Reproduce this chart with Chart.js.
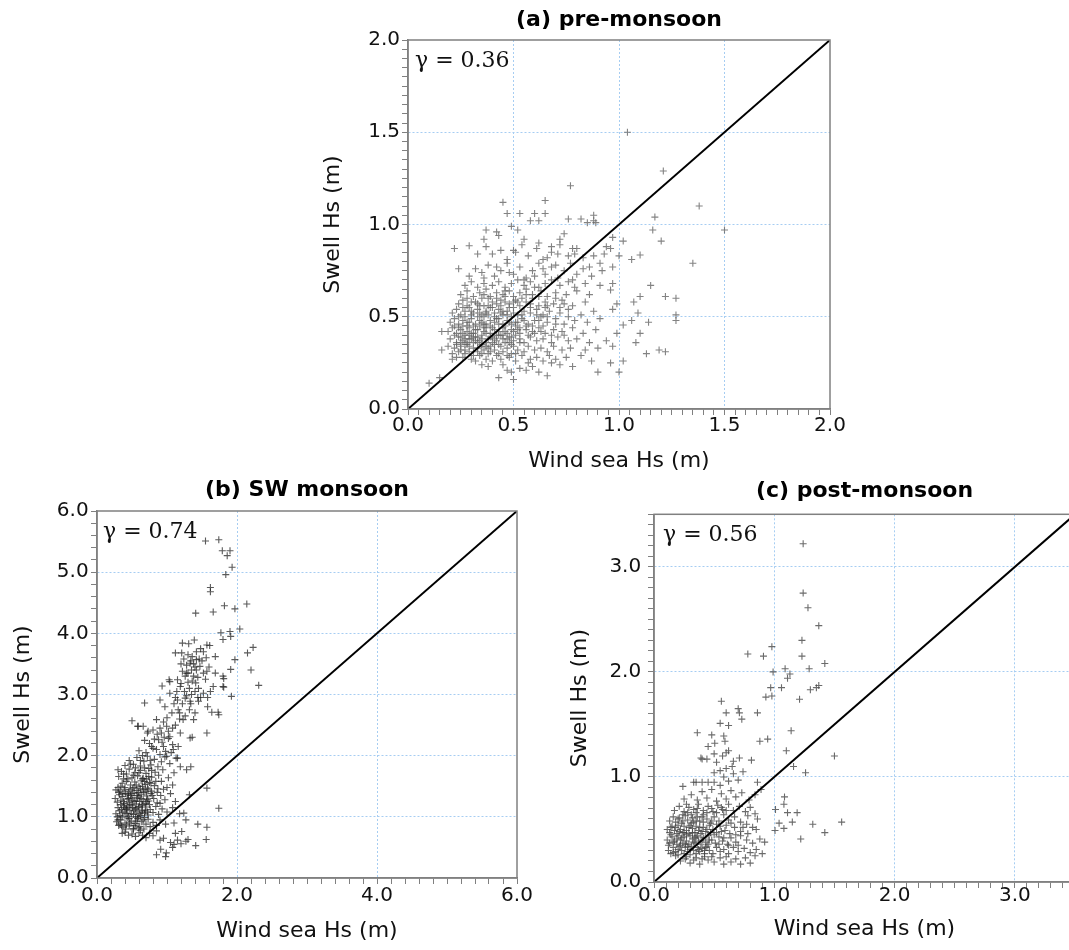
<!DOCTYPE html>
<html>
<head>
<meta charset="utf-8">
<script src="https://cdn.jsdelivr.net/npm/chart.js@4/dist/chart.umd.min.js"></script>
<style>
    html, body { margin: 0; padding: 0; overflow: hidden; background: #fff; width: 1069px; height: 950px; }
    .panel { position: absolute; }
</style>
</head>
<body>
<div class="panel" style="left:300px;top:0px;"><canvas id="chartA" width="560" height="480"></canvas></div>
<div class="panel" style="left:0px;top:470px;"><canvas id="chartB" width="550" height="480"></canvas></div>
<div class="panel" style="left:540px;top:470px;"><canvas id="chartC" width="560" height="480"></canvas></div>
<script>
const panelTitles = ['(a) pre-monsoon', '(b) SW monsoon', '(c) post-monsoon'];
const gammaLabels = ['\u03b3 = 0.36', '\u03b3 = 0.74', '\u03b3 = 0.56'];
const xLabel = 'Wind sea Hs (m)';
const yLabel = 'Swell Hs (m)';

// major (labelled) ticks of each axis
const preTicks = [0, 0.5, 1.0, 1.5, 2.0];
const swXTicks = [0, 2, 4, 6];
const swYTicks = [0, 1, 2, 3, 4, 5, 6];
const postTicks = [0, 1, 2, 3];

// [wind sea Hs, swell Hs]
const preMonsoon = [
    [1.04,1.50],[1.21,1.29],[0.77,1.21],[1.38,1.10],[1.17,1.04],[1.16,0.97],[1.50,0.97],[1.35,0.79],[1.20,0.91],
    [0.45,1.12],[0.65,1.13],[0.47,1.06],[0.53,1.06],[0.60,1.06],[0.65,1.06],[0.76,1.03],[0.82,1.03],[0.88,1.05],
    [0.88,1.02],[0.89,1.01],[0.22,0.87],[0.29,0.885],[0.24,0.76],[0.16,0.42],[0.16,0.32],[0.10,0.14],[0.15,0.17],
    [0.21,0.27],[0.43,0.17],[0.50,0.16],[0.66,0.18],[0.90,0.20],[1.00,0.20],[0.87,0.26],[0.96,0.25],[1.02,0.26],
    [1.13,0.30],[1.19,0.32],[1.22,0.31],[1.08,0.36],[1.10,0.41],[1.27,0.60],[1.27,0.51],[1.27,0.48],[1.22,0.61],
    [1.15,0.67],[1.10,0.835],[1.06,0.81],[1.10,0.61],[1.07,0.58],[1.14,0.47],[1.06,0.48],[1.09,0.52],[1.02,0.91],
    [0.97,0.93],[0.96,0.87],[1.00,0.83],[0.97,0.77],[0.97,0.68],[0.96,0.645],[0.99,0.57],[0.97,0.54],[0.99,0.41],
    [0.97,0.34],[0.94,0.37],[1.02,0.455],[0.36,0.92],[0.37,0.97],[0.42,0.96],[0.43,0.94],[0.49,0.99],[0.52,0.97],
    [0.58,1.02],[0.62,1.02],[0.74,0.95],[0.72,0.92],[0.85,1.01],[0.50,0.86],[0.40,0.84],[0.33,0.84],[0.55,0.92],
    [0.62,0.90],[0.68,0.88],[0.78,0.87],[0.79,0.84],[0.83,0.82],[0.88,0.83],[0.91,0.79],[0.86,0.77],[0.93,0.84],
    [0.94,0.88],[0.71,0.84],
    [0.47,0.21],[0.49,0.20],[0.53,0.22],[0.56,0.21],[0.59,0.23],[0.62,0.20],[0.38,0.23],[0.35,0.24],[0.45,0.24],
    [0.72,0.24],[0.78,0.23],[0.57,0.25],[0.68,0.25],
    [0.26,0.28],[0.30,0.27],[0.32,0.26],[0.34,0.29],[0.37,0.27],[0.40,0.26],[0.42,0.29],[0.44,0.27],[0.48,0.28],
    [0.51,0.26],[0.54,0.29],[0.58,0.27],[0.61,0.28],[0.64,0.26],[0.67,0.29],[0.70,0.27],[0.75,0.28],[0.82,0.29],
    [0.22,0.33],[0.24,0.31],[0.25,0.34],[0.27,0.32],[0.28,0.35],[0.29,0.31],[0.31,0.33],[0.33,0.31],[0.35,0.34],
    [0.36,0.32],[0.38,0.30],[0.39,0.34],[0.41,0.32],[0.43,0.35],[0.45,0.31],[0.47,0.33],[0.49,0.30],[0.50,0.34],
    [0.52,0.32],[0.55,0.31],[0.57,0.34],[0.60,0.32],[0.63,0.33],[0.66,0.31],[0.69,0.34],[0.73,0.32],[0.77,0.33],
    [0.84,0.32],[0.90,0.33],[0.19,0.34],
    [0.20,0.38],[0.23,0.36],[0.24,0.39],[0.26,0.37],[0.27,0.40],[0.28,0.36],[0.30,0.38],[0.31,0.36],[0.32,0.39],
    [0.34,0.37],[0.35,0.40],[0.37,0.36],[0.38,0.38],[0.40,0.39],[0.42,0.37],[0.44,0.40],[0.46,0.36],[0.48,0.39],
    [0.50,0.37],[0.53,0.38],[0.55,0.36],[0.58,0.39],[0.61,0.37],[0.64,0.38],[0.68,0.36],[0.71,0.39],[0.76,0.37],
    [0.80,0.38],[0.86,0.36],
    [0.19,0.42],[0.21,0.44],[0.23,0.41],[0.25,0.43],[0.26,0.45],[0.28,0.42],[0.29,0.44],[0.31,0.41],[0.33,0.43],
    [0.34,0.45],[0.36,0.42],[0.37,0.44],[0.39,0.41],[0.41,0.43],[0.43,0.42],[0.45,0.44],[0.47,0.41],[0.49,0.43],
    [0.51,0.45],[0.53,0.41],[0.56,0.43],[0.59,0.42],[0.62,0.44],[0.65,0.41],[0.69,0.43],[0.73,0.42],[0.78,0.44],
    [0.83,0.41],[0.89,0.43],
    [0.20,0.47],[0.22,0.49],[0.24,0.46],[0.26,0.48],[0.27,0.50],[0.29,0.47],[0.30,0.49],[0.32,0.46],[0.34,0.48],
    [0.36,0.50],[0.37,0.46],[0.39,0.48],[0.41,0.47],[0.43,0.49],[0.45,0.46],[0.47,0.48],[0.49,0.50],[0.51,0.47],
    [0.54,0.49],[0.57,0.46],[0.60,0.48],[0.63,0.50],[0.66,0.47],[0.70,0.49],[0.74,0.46],[0.79,0.48],[0.85,0.47],
    [0.91,0.49],
    [0.21,0.52],[0.23,0.54],[0.25,0.51],[0.27,0.53],[0.29,0.55],[0.31,0.52],[0.33,0.54],[0.35,0.51],[0.37,0.53],
    [0.39,0.55],[0.41,0.52],[0.43,0.54],[0.45,0.51],[0.47,0.53],[0.50,0.55],[0.52,0.51],[0.55,0.53],[0.58,0.52],
    [0.61,0.54],[0.64,0.51],[0.67,0.53],[0.72,0.52],[0.76,0.54],[0.82,0.51],[0.88,0.53],
    [0.24,0.57],[0.26,0.59],[0.28,0.56],[0.30,0.58],[0.33,0.57],[0.35,0.60],[0.38,0.56],[0.40,0.58],[0.42,0.60],
    [0.44,0.56],[0.46,0.58],[0.48,0.57],[0.51,0.59],[0.53,0.56],[0.56,0.58],[0.59,0.60],[0.62,0.56],[0.65,0.58],
    [0.69,0.57],[0.73,0.59],[0.78,0.56],[0.84,0.58],
    [0.25,0.62],[0.28,0.64],[0.31,0.61],[0.34,0.63],[0.37,0.65],[0.39,0.61],[0.42,0.63],[0.45,0.62],[0.48,0.64],
    [0.50,0.61],[0.53,0.63],[0.56,0.65],[0.59,0.62],[0.63,0.64],[0.66,0.61],[0.70,0.63],[0.75,0.62],[0.80,0.64],
    [0.86,0.62],
    [0.27,0.67],[0.30,0.69],[0.33,0.66],[0.36,0.68],[0.40,0.67],[0.43,0.69],[0.46,0.66],[0.49,0.68],[0.52,0.70],
    [0.55,0.67],[0.58,0.69],[0.62,0.66],[0.65,0.68],[0.68,0.70],[0.72,0.67],[0.76,0.69],[0.79,0.66],[0.84,0.68],
    [0.91,0.67],
    [0.29,0.72],[0.32,0.76],[0.35,0.74],[0.38,0.78],[0.41,0.72],[0.44,0.75],[0.47,0.79],[0.50,0.73],[0.53,0.77],
    [0.56,0.71],[0.59,0.75],[0.62,0.79],[0.65,0.73],[0.68,0.77],[0.71,0.71],[0.74,0.75],[0.77,0.79],[0.80,0.73],
    [0.83,0.76],[0.87,0.72],[0.92,0.75],
    [0.37,0.88],[0.44,0.86],[0.47,0.81],[0.51,0.85],[0.54,0.89],[0.57,0.83],[0.61,0.87],[0.64,0.81],[0.68,0.85],
    [0.72,0.89],[0.76,0.83],[0.80,0.87],
    [0.23,0.35],[0.25,0.32],[0.27,0.38],[0.29,0.34],[0.30,0.41],[0.32,0.37],[0.33,0.33],[0.35,0.38],[0.36,0.44],
    [0.38,0.33],[0.40,0.36],[0.42,0.40],[0.44,0.34],[0.46,0.45],[0.48,0.36],[0.50,0.42],[0.52,0.47],[0.22,0.40],
    [0.24,0.44],[0.26,0.41],[0.28,0.47],[0.31,0.45],[0.33,0.50],[0.35,0.47],[0.37,0.52],[0.39,0.45],[0.41,0.50],
    [0.43,0.46],[0.45,0.53],[0.47,0.51],[0.49,0.46],[0.51,0.40],[0.53,0.44],[0.55,0.48],[0.57,0.40],[0.59,0.45],
    [0.61,0.51],[0.63,0.42],[0.65,0.55],[0.30,0.53],[0.28,0.60],[0.34,0.56],[0.36,0.62],[0.40,0.55],[0.44,0.59],
    [0.48,0.55],[0.52,0.58],[0.56,0.62],[0.60,0.66],[0.46,0.64],
    [0.21,0.30],[0.23,0.28],[0.25,0.36],[0.27,0.30],[0.29,0.38],[0.31,0.29],[0.33,0.36],[0.35,0.30],[0.37,0.41],
    [0.39,0.31],[0.41,0.35],[0.43,0.30],[0.45,0.38],[0.47,0.29],[0.49,0.35],[0.51,0.30],[0.53,0.36],[0.22,0.45],
    [0.24,0.50],[0.26,0.55],[0.28,0.45],[0.30,0.51],[0.32,0.43],[0.34,0.52],[0.36,0.46],[0.38,0.51],[0.40,0.44],
    [0.42,0.49],[0.44,0.52],[0.46,0.42],[0.48,0.47],[0.50,0.52],[0.52,0.43],[0.54,0.51],[0.56,0.45],[0.58,0.55],
    [0.60,0.41],[0.62,0.48],[0.64,0.45],[0.66,0.50],[0.68,0.40],[0.70,0.46],[0.72,0.55],[0.74,0.40],[0.76,0.50],
    [0.25,0.39],[0.27,0.35],[0.29,0.40],[0.31,0.39],[0.33,0.39],[0.35,0.35],[0.37,0.34],[0.39,0.39],[0.41,0.38],
    [0.43,0.40],[0.45,0.40],[0.47,0.38],[0.49,0.39],[0.32,0.58],[0.36,0.56],[0.38,0.60],[0.42,0.57],[0.46,0.61],
    [0.50,0.58],[0.54,0.60],[0.58,0.57],[0.62,0.61],[0.66,0.56],[0.70,0.60],[0.74,0.57],[0.55,0.70],[0.60,0.72],
    [0.64,0.76],[0.48,0.74],[0.42,0.77],[0.36,0.71],[0.70,0.78],[0.78,0.70],[0.66,0.82]
];

const swMonsoon = [
    [1.55,5.51],[1.74,5.53],[1.79,5.35],[1.90,5.35],[1.86,5.27],[1.93,5.08],[1.84,4.96],[1.62,4.75],[1.62,4.68],
    [2.14,4.48],[1.82,4.45],[1.97,4.40],[1.66,4.35],[1.41,4.33],[2.04,4.07],[1.77,4.01],[1.90,4.03],[1.80,3.90],
    [1.91,3.95],[2.23,3.77],[2.15,3.68],[1.97,3.57],[2.20,3.40],[2.31,3.15],[1.91,3.41],[1.92,2.97],[1.81,3.26],
    [1.81,3.12],[1.74,2.67],[1.64,2.71],[1.57,2.37],[1.36,2.30],[1.74,1.14],[1.57,1.47],[1.57,0.83],[1.56,0.63],
    [1.44,0.88],[1.41,0.53],[1.27,0.60],[1.30,0.63],[1.08,0.50],[1.10,0.55],[0.98,0.35],[0.99,0.41],[0.85,0.38],
    [0.91,0.47],[1.12,0.73],[1.21,0.76],[1.24,1.06],[1.27,0.95],[1.34,1.82],[1.32,1.36],[0.50,2.57],[0.68,2.86],
    [0.58,2.48],[0.72,2.37],[0.93,3.14],[1.03,3.24],[1.22,3.84],[1.39,3.89],[1.12,3.68],[0.30,1.77],[0.27,1.44],
    [1.31,3.83],[1.57,3.81],[1.61,3.80],[1.21,3.68],[1.42,3.57],[1.33,3.51],[1.47,3.46],[1.22,3.38],[1.28,3.35],
    [1.38,3.30],[1.57,3.38],[1.69,3.62],[1.69,3.35],[1.15,3.24],[1.04,3.21],[1.19,3.13],[1.32,3.10],[1.41,3.19],
    [1.52,3.02],[1.66,3.13],[1.80,3.30],[1.80,3.13],[1.04,3.02],[1.15,2.91],[1.26,2.94],[1.33,2.89],[1.45,2.89],
    [1.58,2.80],[1.73,2.71],[0.90,2.91],[0.97,2.80],[1.07,2.70],[1.16,2.75],[1.23,2.59],[1.38,2.59],[0.85,2.59],
    [0.995,2.48],[0.80,2.42],[0.73,2.40],[0.66,2.48],[0.59,2.48],[0.92,2.37],[1.04,2.31],[1.19,2.37],[1.33,2.29],
    [0.88,2.26],[0.78,2.15],[0.85,2.10],[0.95,2.15],[1.09,2.10],[0.995,1.99],[1.15,1.96],[1.19,1.82],[1.28,1.77],
    [1.25,3.05],[1.30,3.20],[1.35,3.00],[1.40,3.45],[1.45,3.10],[1.50,3.55],[1.28,3.48],[1.36,3.62],[1.44,3.28],
    [1.48,2.95],[1.55,3.25],[1.60,3.45],[1.22,2.85],[1.32,2.75],[1.40,2.70],[1.18,2.60],[1.12,2.95],[1.08,2.45],
    [1.42,3.70],[1.35,3.40],[1.26,3.30],[1.52,3.70],[1.62,3.05],[1.58,2.95],
    [1.20,3.50],[1.24,3.58],[1.30,3.65],[1.34,3.55],[1.38,3.50],[1.42,3.40],[1.46,3.58],[1.30,3.35],[1.36,3.22],
    [1.40,3.05],[1.28,2.98],[1.20,3.18],[1.14,3.05],[1.10,2.85],[1.18,2.70],[1.26,2.65],[1.34,2.85],[1.44,2.95],
    [1.52,3.35],[1.56,3.60],[1.48,3.75],[1.00,2.62],[0.95,2.55],[0.90,2.45],[0.86,2.35],[0.96,2.30],[1.02,2.40],
    [1.12,2.50],[1.16,2.15],[1.06,2.05],
    [0.40,0.75],[0.45,0.70],[0.50,0.72],[0.55,0.68],[0.60,0.74],[0.65,0.70],[0.70,0.66],[0.75,0.73],[0.80,0.69],
    [0.85,0.77],[0.52,0.79],[0.62,0.78],[0.36,0.73],[0.90,0.62],[0.95,0.65],[1.05,0.58],[1.15,0.62],[1.20,0.56],
    [0.28,0.92],[0.31,0.86],[0.34,0.95],[0.37,0.83],[0.40,0.90],[0.43,0.98],[0.46,0.85],[0.49,0.93],[0.52,0.81],
    [0.55,0.89],[0.58,0.97],[0.61,0.84],[0.64,0.92],[0.67,0.80],[0.70,0.88],[0.73,0.96],[0.76,0.84],[0.80,0.91],
    [0.85,0.86],[0.90,0.95],[0.98,0.88],[1.10,0.90],[0.33,0.88],[0.42,0.87],[0.57,0.93],[0.68,0.99],
    [0.27,1.05],[0.30,1.15],[0.33,1.02],[0.35,1.12],[0.38,1.18],[0.40,1.06],[0.42,1.14],[0.45,1.01],[0.47,1.10],
    [0.50,1.19],[0.52,1.04],[0.55,1.13],[0.57,1.08],[0.60,1.17],[0.62,1.02],[0.65,1.11],[0.68,1.06],[0.70,1.16],
    [0.73,1.03],[0.76,1.12],[0.80,1.07],[0.84,1.17],[0.88,1.04],[0.93,1.13],[1.00,1.08],[1.08,1.15],[1.18,1.05],
    [0.44,1.16],[0.59,1.00],[0.37,1.08],[0.64,1.19],[0.53,1.11],
    [0.26,1.30],[0.29,1.24],[0.32,1.36],[0.34,1.27],[0.36,1.33],[0.39,1.22],[0.41,1.38],[0.43,1.29],[0.46,1.23],
    [0.48,1.35],[0.51,1.27],[0.53,1.39],[0.56,1.21],[0.58,1.31],[0.61,1.25],[0.63,1.37],[0.66,1.28],[0.69,1.22],
    [0.71,1.34],[0.74,1.26],[0.77,1.38],[0.81,1.30],[0.86,1.23],[0.91,1.35],[0.97,1.28],[1.05,1.38],[1.12,1.25],
    [0.49,1.31],[0.60,1.34],[0.72,1.29],
    [0.30,1.48],[0.33,1.42],[0.36,1.55],[0.39,1.45],[0.42,1.58],[0.45,1.41],[0.48,1.52],[0.51,1.46],[0.54,1.57],
    [0.57,1.43],[0.60,1.50],[0.63,1.59],[0.66,1.44],[0.69,1.53],[0.72,1.47],[0.75,1.56],[0.78,1.42],[0.82,1.51],
    [0.87,1.46],[0.92,1.58],[1.00,1.48],[1.08,1.52],[0.65,1.50],[0.70,1.41],
    [0.31,1.66],[0.35,1.74],[0.38,1.62],[0.42,1.70],[0.46,1.78],[0.50,1.64],[0.54,1.72],[0.58,1.67],[0.62,1.76],
    [0.66,1.63],[0.70,1.71],[0.74,1.79],[0.78,1.65],[0.83,1.73],[0.88,1.68],[0.94,1.77],[1.02,1.64],[1.10,1.72],
    [0.40,1.84],[0.46,1.92],[0.52,1.86],[0.57,1.97],[0.62,1.83],[0.67,1.91],[0.72,1.99],[0.77,1.85],[0.82,1.94],
    [0.87,1.82],[0.92,1.90],[0.97,1.98],[1.04,1.87],[1.13,1.96],[0.65,2.00],
    [0.60,2.08],[0.70,2.05],[0.75,2.20],[0.80,2.12],[0.90,2.02],[0.93,2.22],[0.98,2.07],[1.02,2.28],[1.08,2.18],
    [0.82,2.27],[0.68,2.25],
    [0.29,1.00],[0.32,1.10],[0.34,1.20],[0.36,1.00],[0.38,1.25],[0.40,1.15],[0.43,1.05],[0.45,1.30],[0.47,1.20],
    [0.49,1.05],[0.51,1.15],[0.53,1.25],[0.55,1.00],[0.57,1.35],[0.59,1.15],[0.61,1.05],[0.63,1.30],[0.65,1.20],
    [0.67,1.40],[0.69,1.10],[0.71,1.25],[0.73,1.45],[0.75,1.20],[0.77,1.55],[0.79,1.35],[0.31,1.40],[0.34,1.50],
    [0.37,1.38],[0.40,1.48],[0.44,1.36],[0.47,1.44],[0.50,1.38],[0.53,1.48],[0.56,1.52],[0.59,1.40],[0.62,1.46],
    [0.65,1.62],[0.68,1.58],[0.71,1.62],[0.74,1.66],[0.78,1.76],[0.30,0.95],[0.35,0.85],[0.41,0.80],[0.47,0.90],
    [0.53,0.86],[0.59,0.82],[0.44,1.62],[0.52,1.68],[0.60,1.72],[0.68,1.80],[0.76,1.92],[0.84,1.58],[0.86,1.40],
    [0.90,1.22],[0.95,1.45],[0.55,1.80],[0.48,1.86],[0.62,1.92],[0.38,1.70],[0.42,1.12],[0.56,1.26],[0.64,1.08],
    [0.66,0.95],[0.72,1.08],[0.46,0.97]
];

const postMonsoon = [
    [1.24,3.22],[1.24,2.75],[1.28,2.61],[1.37,2.44],[1.23,2.30],[0.98,2.24],[1.23,2.15],[0.78,2.17],[0.91,2.15],
    [1.42,2.08],[1.29,2.03],[1.09,2.03],[0.99,2.00],[1.13,1.98],[1.11,1.94],[0.97,1.85],[1.06,1.85],[1.30,1.83],
    [1.35,1.85],[1.37,1.87],[0.93,1.76],[0.98,1.77],[1.21,1.74],[0.56,1.72],[0.86,1.61],[0.70,1.65],[0.71,1.61],
    [0.73,1.55],[0.60,1.61],[1.14,1.44],[0.62,1.49],[0.55,1.51],[0.36,1.42],[0.48,1.40],[0.58,1.39],[0.59,1.34],
    [0.945,1.36],[0.88,1.34],[0.45,1.29],[0.505,1.32],[1.10,1.25],[1.50,1.20],[0.39,1.18],[0.40,1.17],[0.81,1.16],
    [1.16,1.10],[1.26,1.04],[1.085,0.81],[1.08,0.74],[1.01,0.69],[1.11,0.66],[1.04,0.56],[1.08,0.51],[1.19,0.66],
    [1.15,0.57],[1.32,0.55],[1.56,0.57],[1.42,0.47],[1.22,0.41],[1.006,0.49],
    [0.22,0.20],[0.30,0.18],[0.38,0.17],[0.45,0.21],[0.50,0.19],[0.58,0.17],[0.64,0.19],[0.72,0.17],[0.80,0.18],
    [0.35,0.23],[0.42,0.24],[0.55,0.23],[0.68,0.22],[0.76,0.23],[0.84,0.25],[0.27,0.24],[0.18,0.25],
    [0.12,0.30],[0.14,0.27],[0.16,0.33],[0.18,0.29],[0.20,0.26],[0.21,0.34],[0.23,0.30],[0.25,0.27],[0.26,0.33],
    [0.28,0.29],[0.30,0.26],[0.31,0.34],[0.33,0.30],[0.35,0.27],[0.36,0.33],[0.38,0.29],[0.40,0.32],[0.42,0.27],
    [0.44,0.34],[0.46,0.30],[0.49,0.27],[0.52,0.33],[0.55,0.29],[0.58,0.31],[0.62,0.27],[0.66,0.33],[0.70,0.29],
    [0.75,0.32],[0.80,0.28],[0.85,0.31],[0.90,0.27],
    [0.11,0.40],[0.13,0.37],[0.15,0.43],[0.17,0.39],[0.19,0.36],[0.20,0.44],[0.22,0.40],[0.24,0.37],[0.25,0.43],
    [0.27,0.39],[0.29,0.36],[0.30,0.44],[0.32,0.41],[0.34,0.37],[0.35,0.43],[0.37,0.39],[0.39,0.36],[0.41,0.42],
    [0.43,0.38],[0.45,0.44],[0.48,0.40],[0.51,0.37],[0.54,0.43],[0.57,0.39],[0.61,0.36],[0.64,0.42],[0.68,0.38],
    [0.72,0.44],[0.77,0.40],[0.82,0.37],[0.88,0.41],[0.92,0.38],
    [0.11,0.50],[0.13,0.47],[0.15,0.53],[0.17,0.49],[0.19,0.46],[0.20,0.54],[0.22,0.50],[0.24,0.47],[0.25,0.53],
    [0.27,0.49],[0.29,0.46],[0.30,0.54],[0.32,0.51],[0.34,0.47],[0.35,0.53],[0.37,0.49],[0.39,0.46],[0.41,0.52],
    [0.43,0.48],[0.46,0.54],[0.49,0.50],[0.52,0.47],[0.55,0.53],[0.59,0.49],[0.63,0.46],[0.67,0.52],[0.72,0.48],
    [0.77,0.55],[0.85,0.50],
    [0.13,0.58],[0.16,0.62],[0.18,0.57],[0.21,0.61],[0.23,0.56],[0.26,0.63],[0.28,0.59],[0.31,0.64],[0.33,0.57],
    [0.36,0.62],[0.38,0.58],[0.41,0.64],[0.44,0.60],[0.47,0.56],[0.50,0.62],[0.54,0.58],[0.58,0.64],[0.62,0.59],
    [0.67,0.62],[0.72,0.57],[0.78,0.63],[0.86,0.60],[0.84,0.65],
    [0.17,0.68],[0.21,0.72],[0.25,0.67],[0.29,0.71],[0.33,0.69],[0.37,0.74],[0.41,0.68],[0.45,0.72],[0.49,0.67],
    [0.53,0.73],[0.57,0.69],[0.62,0.74],[0.66,0.68],[0.71,0.72],[0.76,0.67],[0.80,0.71],[0.27,0.74],[0.35,0.66],
    [0.25,0.79],[0.31,0.83],[0.36,0.78],[0.40,0.86],[0.44,0.80],[0.48,0.88],[0.52,0.77],[0.56,0.84],[0.60,0.79],
    [0.64,0.87],[0.68,0.81],[0.73,0.85],[0.79,0.78],[0.84,0.83],[0.89,0.88],
    [0.24,0.91],[0.33,0.95],[0.35,0.95],[0.40,0.95],[0.45,0.95],[0.50,0.95],[0.55,0.92],[0.58,1.00],[0.62,0.96],
    [0.66,1.03],[0.70,0.97],[0.74,1.05],[0.60,1.08],[0.65,1.10],[0.55,1.06],[0.50,1.04],[0.86,0.95],
    [0.52,1.14],[0.57,1.20],[0.62,1.25],[0.66,1.15],[0.71,1.18],[0.60,1.23],[0.50,1.22],[0.44,1.17],
    [0.12,0.35],[0.14,0.45],[0.16,0.38],[0.18,0.52],[0.20,0.31],[0.21,0.48],[0.23,0.42],[0.24,0.58],[0.26,0.36],
    [0.27,0.45],[0.29,0.52],[0.30,0.31],[0.32,0.47],[0.33,0.38],[0.35,0.58],[0.36,0.44],[0.38,0.52],[0.40,0.40],
    [0.41,0.57],[0.43,0.33],[0.44,0.50],[0.46,0.40],[0.48,0.58],[0.50,0.45],[0.52,0.55],[0.54,0.36],[0.56,0.48],
    [0.58,0.42],[0.60,0.54],[0.62,0.35],[0.14,0.52],[0.16,0.28],[0.19,0.41],[0.22,0.35],[0.25,0.47],[0.28,0.34],
    [0.31,0.56],[0.34,0.42],[0.37,0.31],[0.40,0.48],[0.42,0.30],[0.45,0.36],[0.47,0.47],[0.20,0.60],[0.24,0.64],
    [0.28,0.66],[0.32,0.61],[0.36,0.70],[0.40,0.62],[0.44,0.66],[0.48,0.70],[0.52,0.66],[0.56,0.71],[0.60,0.68],
    [0.64,0.56],[0.68,0.45],[0.70,0.35],[0.74,0.52],[0.78,0.46],[0.82,0.52],[0.26,0.22],[0.33,0.21],[0.40,0.22],
    [0.48,0.24],[0.60,0.24]
];

const gridBlue = '#a6cdf2';
const frameGray = '#808080';

Chart.defaults.font.family = "'DejaVu Sans', sans-serif";
Chart.defaults.color = '#111';

function isMajor(value, majors) {
    return majors.some(function (m) { return Math.abs(m - value) < 1e-6; });
}

// box around the plot area plus the correlation note in the corner
const frameNote = {
    id: 'frameNote',
    afterDraw: function (chart, args, opts) {
        const ctx = chart.ctx;
        const a = chart.chartArea;
        ctx.save();
        ctx.strokeStyle = frameGray;
        ctx.lineWidth = 1.5;
        ctx.strokeRect(a.left, a.top, a.right - a.left, a.bottom - a.top);
        ctx.fillStyle = '#111';
        ctx.font = "22px 'DejaVu Serif', serif";
        ctx.textAlign = 'left';
        ctx.textBaseline = 'alphabetic';
        ctx.fillText(opts.text, a.left + opts.dx, a.top + 27);
        ctx.restore();
    }
};

function axisOptions(o) {
    const vertical = o.position === 'left';
    return {
        type: 'linear',
        position: o.position,
        min: 0,
        max: o.max,
        afterFit: function (scale) {
            if (vertical) scale.width = o.size; else scale.height = o.size;
        },
        title: {
            display: true,
            text: vertical ? yLabel : xLabel,
            color: '#111',
            font: { size: 22 },
            padding: vertical ? { top: o.titlePad, bottom: 0 } : { top: 0, bottom: o.titlePad }
        },
        ticks: {
            stepSize: o.step,
            autoSkip: false,
            maxRotation: 0,
            color: '#111',
            font: { size: 20, lineHeight: 1 },
            padding: o.tickPad,
            callback: function (v) { return isMajor(v, o.majors) ? v.toFixed(1) : ''; }
        },
        grid: {
            color: function (c) {
                if (!c.tick) return 'rgba(0,0,0,0)';
                const v = c.tick.value;
                return (v > 1e-6 && v < o.max - 1e-6 && isMajor(v, o.majors)) ? gridBlue : 'rgba(0,0,0,0)';
            },
            lineWidth: 1,
            tickColor: frameGray,
            tickLength: 6,
            drawTicks: true
        },
        border: { display: true, color: frameGray, width: 1.5, dash: [2, 2] }
    };
}

function makePanel(canvasId, p) {
    const ctx = document.getElementById(canvasId).getContext('2d');
    return new Chart(ctx, {
        type: 'scatter',
        data: {
            datasets: [{
                data: [{ x: 0, y: 0 }, { x: p.max, y: p.max }],
                showLine: true,
                borderColor: '#000',
                borderWidth: 2,
                pointRadius: 0,
                fill: false
            }, {
                data: p.points.map(function (d) { return { x: d[0], y: d[1] }; }),
                pointStyle: 'cross',
                pointRadius: 3.5,
                borderWidth: 1.1,
                borderColor: p.color,
                backgroundColor: p.color
            }]
        },
        options: {
            responsive: false,
            animation: false,
            events: [],
            layout: { padding: { left: 0, right: p.padRight, top: 0, bottom: 0 } },
            plugins: {
                legend: { display: false },
                tooltip: { enabled: false },
                title: {
                    display: true,
                    text: p.title,
                    fullSize: false,
                    color: '#000',
                    font: { size: 22, weight: 'bold' },
                    padding: { top: p.titleTop, bottom: p.titleBottom }
                },
                frameNote: { text: p.gamma, dx: p.gammaDx }
            },
            scales: {
                x: axisOptions({ position: 'bottom', max: p.max, step: p.xStep, majors: p.xMajors,
                    size: p.xSize, tickPad: p.xTickPad, titlePad: p.xTitlePad }),
                y: axisOptions({ position: 'left', max: p.max, step: p.yStep, majors: p.yMajors,
                    size: p.ySize, tickPad: p.yTickPad, titlePad: p.yTitlePad })
            }
        },
        plugins: [frameNote]
    });
}

makePanel('chartA', {
    title: panelTitles[0], gamma: gammaLabels[0], points: preMonsoon, color: 'rgba(100,100,100,0.8)',
    max: 2.0, xStep: 0.05, yStep: 0.05, xMajors: preTicks, yMajors: preTicks,
    padRight: 30, titleTop: 7.5, titleBottom: 6.1, ySize: 108, xSize: 71,
    xTickPad: 0.7, yTickPad: 2, xTitlePad: 5.8, yTitlePad: 20.2, gammaDx: 7
});

makePanel('chartB', {
    title: panelTitles[1], gamma: gammaLabels[1], points: swMonsoon, color: 'rgba(35,35,35,0.75)',
    max: 6.0, xStep: 0.2, yStep: 0.2, xMajors: swXTicks, yMajors: swYTicks,
    padRight: 33, titleTop: 6.8, titleBottom: 7.8, ySize: 97, xSize: 72,
    xTickPad: 1.4, yTickPad: 2.4, xTitlePad: 5.8, yTitlePad: 9.8, gammaDx: 6
});

makePanel('chartC', {
    title: panelTitles[2], gamma: gammaLabels[2], points: postMonsoon, color: 'rgba(70,70,70,0.8)',
    max: 3.5, xStep: 0.1, yStep: 0.1, xMajors: postTicks, yMajors: postTicks,
    padRight: 25, titleTop: 8.5, titleBottom: 9.4, ySize: 114, xSize: 68,
    xTickPad: -2.6, yTickPad: 6.8, xTitlePad: 7.8, yTitlePad: 27.3, gammaDx: 9
});
</script>
</body>
</html>
